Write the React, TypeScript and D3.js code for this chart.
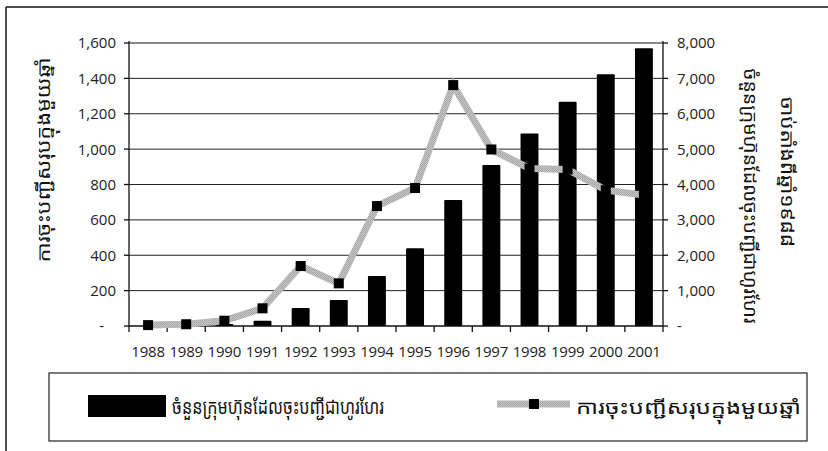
import React, { useEffect, useRef } from 'react';
import * as d3 from 'd3';

const years = ['1988', '1989', '1990', '1991', '1992', '1993', '1994', '1995', '1996', '1997', '1998', '1999', '2000', '2001'];
// cumulative registered companies (bars, right axis)
const cumulative = [0, 0, 60, 150, 510, 735, 1415, 2200, 3560, 4550, 5445, 6340, 7115, 7850];
// registrations per year (line, left axis)
const perYear = [5, 10, 30, 100, 339, 241, 678, 780, 1362, 998, 891, 885, 768, 740];

const leftTicks = [0, 200, 400, 600, 800, 1000, 1200, 1400, 1600];
const rightTicks = [0, 1000, 2000, 3000, 4000, 5000, 6000, 7000, 8000];

const barLabel = 'ចំនួនក្រុមហ៊ុនដែលចុះបញ្ជីជាហូរហែរ';
const lineLabel = 'ការចុះបញ្ជីសរុបក្នុងមួយឆ្នាំ';
const rightTitle2 = 'ចាប់តាំងពីឆ្នាំ១៩៨៨';

const numFont = '"Open Sans", "DejaVu Sans", sans-serif';
const khFont = '"Khmer OS", "Noto Sans Khmer", "Noto Sans", "DejaVu Sans", sans-serif';

const App: React.FC = () => {
  const svgRef = useRef<SVGSVGElement | null>(null);

  useEffect(() => {
    const svg = d3.select(svgRef.current);
    svg.selectAll('*').remove();

    const left = 129, right = 663, top = 43, bottom = 326;

    const x = d3.scaleBand<string>().domain(years).range([left, right]).padding(0);
    const yL = d3.scaleLinear().domain([0, 1600]).range([bottom, top]);
    const yR = d3.scaleLinear().domain([0, 8000]).range([bottom, top]);
    const fmt = (v: number) => (v === 0 ? '-' : d3.format(',')(v));

    // texture for the line
    const defs = svg.append('defs');
    const pat = defs.append('pattern').attr('id', 'dots').attr('width', 2).attr('height', 2)
      .attr('patternUnits', 'userSpaceOnUse');
    pat.append('rect').attr('width', 2).attr('height', 2).attr('fill', '#c8c8c8');
    pat.append('rect').attr('width', 1).attr('height', 1).attr('fill', '#a0a0a0');
    pat.append('rect').attr('x', 1).attr('y', 1).attr('width', 1).attr('height', 1).attr('fill', '#ababab');

    // outer frame
    svg.append('line').attr('x1', 6).attr('x2', 6).attr('y1', 7).attr('y2', 451)
      .attr('stroke', '#111').attr('stroke-width', 1.5);
    svg.append('line').attr('x1', 6).attr('x2', 828).attr('y1', 7).attr('y2', 7)
      .attr('stroke', '#111').attr('stroke-width', 1.5);

    // gridlines
    svg.append('g').selectAll('line').data(leftTicks.filter(t => t > 0 && t < 1600)).join('line')
      .attr('x1', left).attr('x2', right).attr('y1', d => yL(d)).attr('y2', d => yL(d))
      .attr('stroke', '#222').attr('stroke-width', 1);
    svg.append('line').attr('x1', left).attr('x2', right).attr('y1', yL(1600)).attr('y2', yL(1600))
      .attr('stroke', '#888').attr('stroke-width', 2);

    // bars
    const bw = x.bandwidth() * 0.47;
    svg.append('g').selectAll('rect').data(years).join('rect')
      .attr('x', d => (x(d) as number) + (x.bandwidth() - bw) / 2)
      .attr('y', (d, i) => yR(cumulative[i]))
      .attr('width', bw)
      .attr('height', (d, i) => bottom - yR(cumulative[i]))
      .attr('rx', 1)
      .attr('fill', '#000');

    // axes
    const axisG = svg.append('g').attr('stroke', '#111').attr('stroke-width', 1.3);
    axisG.append('line').attr('x1', left).attr('x2', left).attr('y1', top - 2).attr('y2', bottom);
    axisG.append('line').attr('x1', right).attr('x2', right).attr('y1', top - 2).attr('y2', bottom);
    axisG.append('line').attr('x1', left).attr('x2', right).attr('y1', bottom).attr('y2', bottom);
    axisG.selectAll('.tl').data(leftTicks).join('line').attr('class', 'tl')
      .attr('x1', left - 5).attr('x2', left).attr('y1', d => yL(d)).attr('y2', d => yL(d));
    axisG.selectAll('.tr').data(rightTicks).join('line').attr('class', 'tr')
      .attr('x1', right).attr('x2', right + 5).attr('y1', d => yR(d)).attr('y2', d => yR(d));
    axisG.selectAll('.tx').data(years.concat(['end'])).join('line').attr('class', 'tx')
      .attr('x1', (d, i) => left + i * x.step()).attr('x2', (d, i) => left + i * x.step())
      .attr('y1', bottom).attr('y2', bottom + 6);

    // tick labels
    svg.append('g').selectAll('text').data(leftTicks).join('text')
      .attr('x', d => (d === 0 ? 104 : 116)).attr('y', d => yL(d)).attr('dy', '0.36em')
      .attr('text-anchor', 'end').attr('font-family', numFont).attr('font-size', 15)
      .attr('fill', '#222').text(d => fmt(d));
    svg.append('g').selectAll('text').data(rightTicks).join('text')
      .attr('x', 677).attr('y', d => yR(d)).attr('dy', '0.36em')
      .attr('text-anchor', 'start').attr('font-family', numFont).attr('font-size', 15)
      .attr('fill', '#222').text(d => fmt(d));
    svg.append('g').selectAll('text').data(years).join('text')
      .attr('x', d => (x(d) as number) + x.bandwidth() / 2).attr('y', 357)
      .attr('text-anchor', 'middle').attr('font-family', numFont).attr('font-size', 15)
      .attr('letter-spacing', -0.2).attr('fill', '#222').text(d => d);

    // line series
    const line = d3.line<number>()
      .x((d, i) => (x(years[i]) as number) + x.bandwidth() / 2)
      .y(d => yL(d));
    svg.append('path').datum(perYear).attr('d', line).attr('fill', 'none')
      .attr('stroke', 'url(#dots)').attr('stroke-width', 7).attr('stroke-linejoin', 'miter');
    svg.append('g').selectAll('rect').data(perYear).join('rect')
      .attr('x', (d, i) => (x(years[i]) as number) + x.bandwidth() / 2 - 5)
      .attr('y', d => yL(d) - 5).attr('width', 10).attr('height', 10).attr('fill', '#000');

    // axis titles
    svg.append('text').attr('transform', 'translate(50,160) rotate(-90)')
      .attr('text-anchor', 'middle').attr('font-family', khFont).attr('font-size', 18)
      .attr('textLength', 205).attr('lengthAdjust', 'spacingAndGlyphs')
      .attr('fill', '#111').text(lineLabel);
    svg.append('text').attr('transform', 'translate(744,196) rotate(90)')
      .attr('text-anchor', 'middle').attr('font-family', khFont).attr('font-size', 18)
      .attr('textLength', 255).attr('lengthAdjust', 'spacingAndGlyphs')
      .attr('fill', '#111').text(barLabel);
    svg.append('text').attr('transform', 'translate(781,172) rotate(90)')
      .attr('text-anchor', 'middle').attr('font-family', khFont).attr('font-size', 18)
      .attr('textLength', 150).attr('lengthAdjust', 'spacingAndGlyphs')
      .attr('fill', '#111').text(rightTitle2);

    // legend
    const lg = svg.append('g');
    lg.append('rect').attr('x', 49).attr('y', 373).attr('width', 758).attr('height', 68)
      .attr('fill', '#fff').attr('stroke', '#333').attr('stroke-width', 1.3);
    lg.append('rect').attr('x', 88).attr('y', 395).attr('width', 78).attr('height', 22).attr('fill', '#000');
    lg.append('text').attr('x', 172).attr('y', 414).attr('font-family', khFont).attr('font-size', 21)
      .attr('textLength', 212).attr('lengthAdjust', 'spacingAndGlyphs')
      .attr('fill', '#111').text(barLabel);
    lg.append('line').attr('x1', 497).attr('x2', 570).attr('y1', 404).attr('y2', 404)
      .attr('stroke', 'url(#dots)').attr('stroke-width', 7);
    lg.append('rect').attr('x', 529).attr('y', 399).attr('width', 10).attr('height', 10).attr('fill', '#000');
    lg.append('text').attr('x', 576).attr('y', 414).attr('font-family', khFont).attr('font-size', 19)
      .attr('textLength', 225).attr('lengthAdjust', 'spacingAndGlyphs')
      .attr('fill', '#111').text(lineLabel);
  }, []);

  return (
    <svg
      ref={svgRef}
      width={828}
      height={451}
      style={{ position: 'absolute', left: 0, top: 0, display: 'block', background: '#fff' }}
    />
  );
};

export default App;
